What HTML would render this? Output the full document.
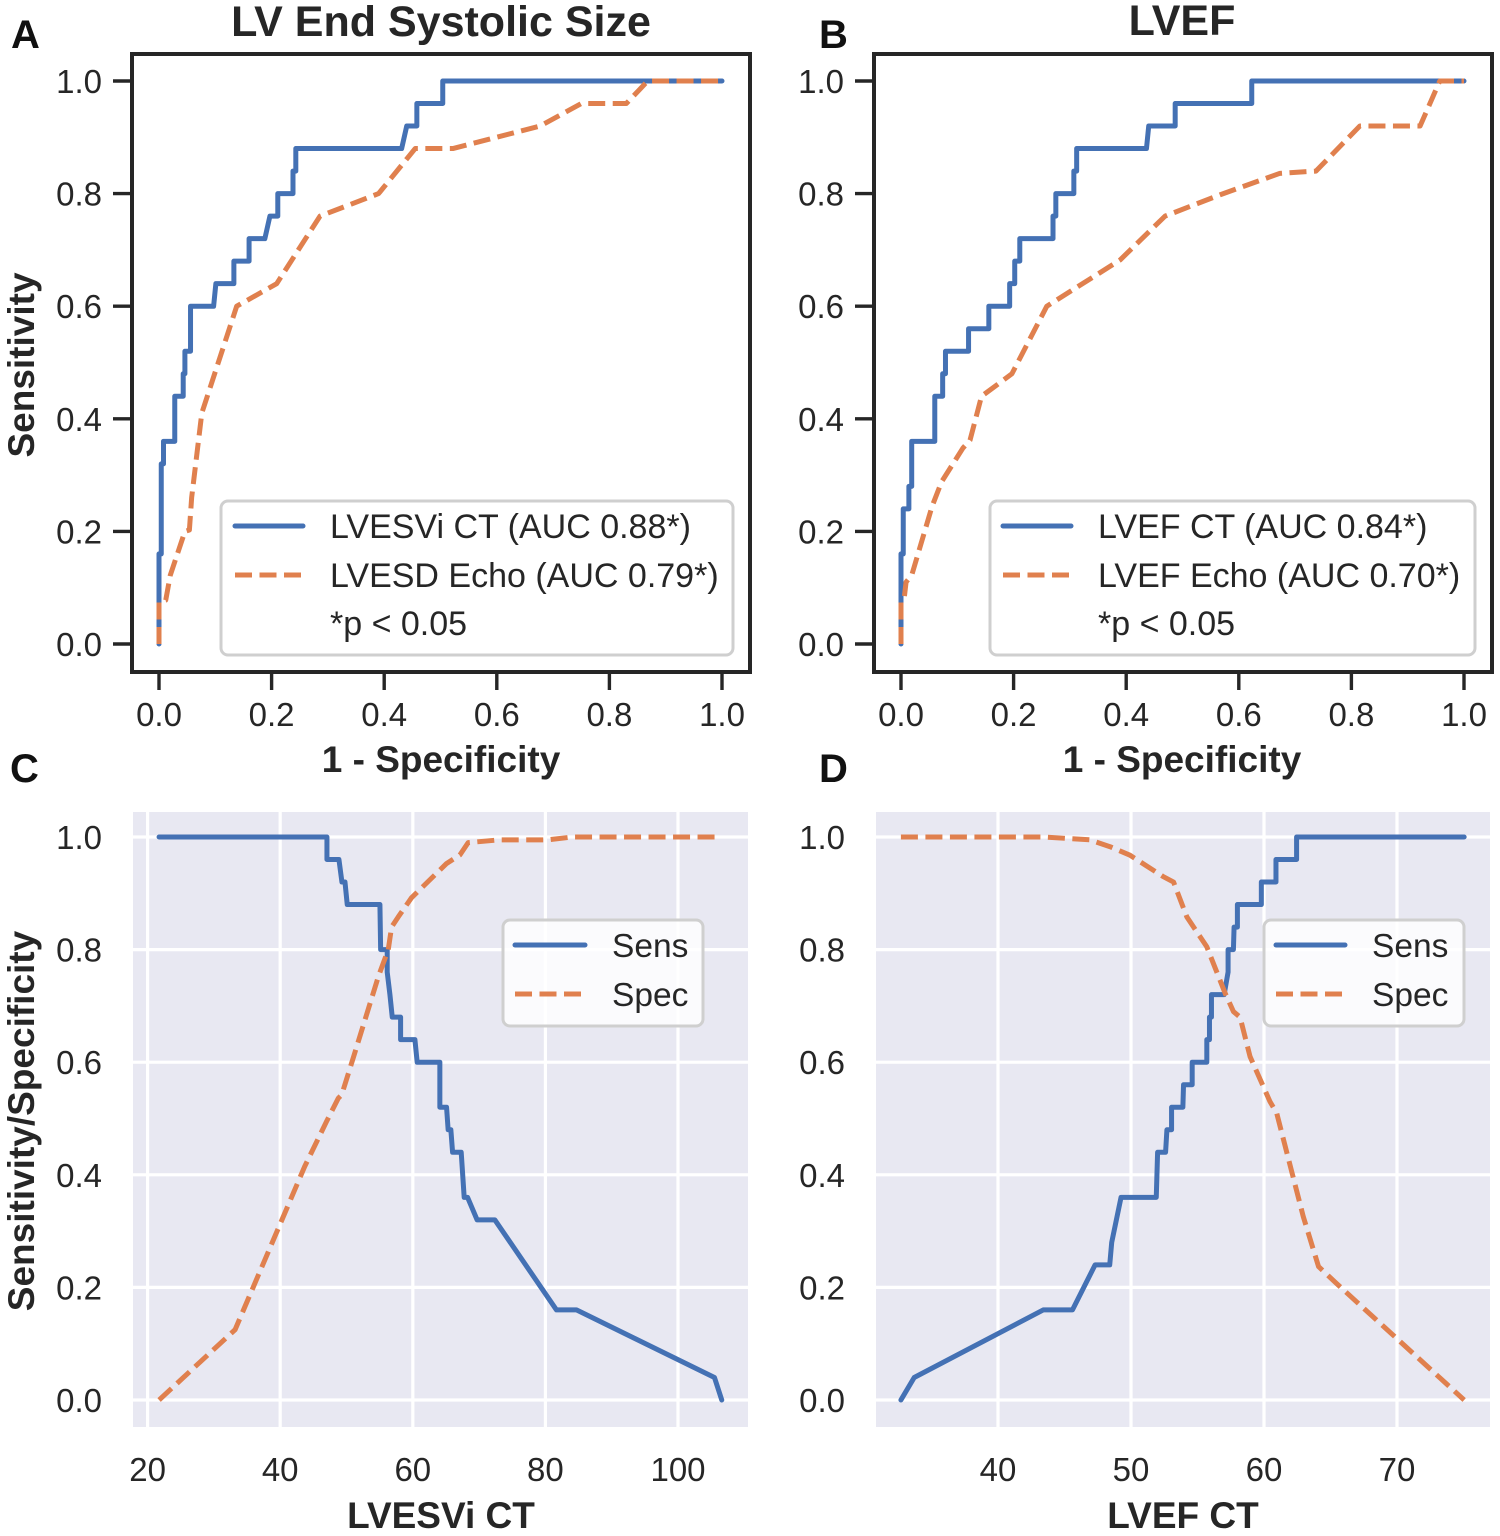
<!DOCTYPE html>
<html lang="en">
<head>
<meta charset="utf-8">
<title>ROC and sensitivity/specificity curves</title>
<style>
html,body{margin:0;padding:0;background:#fff;}
svg{display:block;}
text{font-family:"Liberation Sans",Arial,sans-serif;fill:#262626;}
.tick{font-size:33px;}
.leg{font-size:34px;}
.leg2{font-size:33.5px;}
.title{font-size:43px;font-weight:bold;text-anchor:middle;}
.axt{font-size:37px;font-weight:bold;text-anchor:middle;}
.plabel{font-size:40px;font-weight:bold;fill:#111;}
</style>
</head>
<body>
<svg id="fig" xmlns="http://www.w3.org/2000/svg" width="1500" height="1536" viewBox="0 0 1500 1536"></svg>
<script>
// Shared ticks
const rocTicks = [0, 0.2, 0.4, 0.6, 0.8, 1.0];
const cTicks = [20, 40, 60, 80, 100];
const dTicks = [40, 50, 60, 70];
const yTicks = [0, 0.2, 0.4, 0.6, 0.8, 1.0];

// Panel A: ROC
const aCtFpr = [0,0,0.004,0.004,0.008,0.008,0.028,0.028,0.043,0.043,0.046,0.046,0.056,0.056,0.097,0.101,0.133,0.133,0.16,0.16,0.188,0.197,0.211,0.211,0.238,0.238,0.243,0.243,0.431,0.44,0.458,0.458,0.504,0.504,1];
const aCtSens = [0,0.16,0.16,0.32,0.32,0.36,0.36,0.44,0.44,0.48,0.48,0.52,0.52,0.60,0.60,0.64,0.64,0.68,0.68,0.72,0.72,0.76,0.76,0.80,0.80,0.84,0.84,0.88,0.88,0.92,0.92,0.96,0.96,1,1];
const aEchoFpr = [0,0,0.012,0.02,0.046,0.054,0.058,0.076,0.138,0.209,0.286,0.39,0.455,0.522,0.677,0.75,0.83,0.868,1];
const aEchoSens = [0,0.075,0.078,0.122,0.2,0.2025,0.26,0.41,0.60,0.64,0.76,0.80,0.88,0.88,0.92,0.96,0.96,1,1];

// Panel B: ROC
const bCtFpr = [0,0,0.004,0.004,0.014,0.014,0.019,0.019,0.06,0.06,0.074,0.074,0.079,0.079,0.12,0.12,0.156,0.156,0.193,0.193,0.202,0.202,0.211,0.211,0.27,0.27,0.275,0.275,0.307,0.307,0.312,0.312,0.436,0.44,0.487,0.487,0.623,0.623,1];
const bCtSens = [0,0.16,0.16,0.24,0.24,0.28,0.28,0.36,0.36,0.44,0.44,0.48,0.48,0.52,0.52,0.56,0.56,0.60,0.60,0.64,0.64,0.68,0.68,0.72,0.72,0.76,0.76,0.80,0.80,0.84,0.84,0.88,0.88,0.92,0.92,0.96,0.96,1,1];
const bEchoFpr = [0,0,0.006,0.009,0.019,0.055,0.072,0.11,0.1226,0.143,0.197,0.259,0.389,0.469,0.567,0.673,0.737,0.815,0.922,0.957,1];
const bEchoSens = [0,0.075,0.084,0.11,0.122,0.244,0.288,0.348,0.362,0.44,0.48,0.60,0.682,0.76,0.798,0.836,0.84,0.92,0.92,1,1];

// Panel C: sensitivity / specificity vs LVESVi CT
const cSensX = [21.73,47.05,47.05,48.86,49.31,49.77,50.11,55.04,55.15,56.14,56.14,56.55,56.9,58.16,58.16,60.32,60.66,64.08,64.08,65.09,65.33,65.74,66.0,67.3,67.75,68.26,69.7,72.37,81.67,84.69,105.5,106.6];
const cSensY = [1,1,0.96,0.96,0.92,0.92,0.88,0.88,0.80,0.80,0.76,0.72,0.68,0.68,0.64,0.64,0.60,0.60,0.52,0.52,0.48,0.48,0.44,0.44,0.36,0.36,0.32,0.32,0.16,0.16,0.04,0];
const cSpecX = [21.73,33.2,43.7,47.0,48.76,49.27,51.0,54.8,56.3,56.8,57.8,59.8,65.1,67.1,68.35,73.1,80.4,84.1,106.6];
const cSpecY = [0,0.125,0.415,0.495,0.536,0.542,0.607,0.752,0.80,0.84,0.858,0.892,0.953,0.968,0.99,0.995,0.995,1,1];

// Panel D: sensitivity / specificity vs LVEF CT
const dSensX = [32.7,33.7,43.4,45.6,47.3,48.4,48.55,49.25,51.9,52.0,52.6,52.7,53.05,53.05,53.9,53.95,54.6,54.6,55.7,55.7,55.9,55.9,56.05,56.05,57.0,57.3,57.3,57.7,57.75,58.0,58.0,59.8,59.8,60.9,60.9,62.45,62.45,75.05];
const dSensY = [0,0.04,0.16,0.16,0.24,0.24,0.28,0.36,0.36,0.44,0.44,0.48,0.48,0.52,0.52,0.56,0.56,0.60,0.60,0.64,0.64,0.68,0.68,0.72,0.72,0.76,0.80,0.80,0.84,0.84,0.88,0.88,0.92,0.92,0.96,0.96,1,1];
const dSpecX = [32.7,43.4,46.9,48.4,49.9,52.4,53.2,54.2,55.7,57.07,57.7,58.2,58.95,60.45,60.95,62.95,64.1,65.45,75.05];
const dSpecY = [1,1,0.995,0.983,0.968,0.93,0.92,0.858,0.805,0.723,0.69,0.68,0.61,0.53,0.51,0.326,0.237,0.207,0];

const BLUE = '#4471b4';
const ORANGE = '#e0804e';
const DASH = '17 7.5';
const NS = 'http://www.w3.org/2000/svg';
const fig = document.getElementById('fig');

function mk(parent, tag, attrs, txt) {
  const el = document.createElementNS(NS, tag);
  for (const k in attrs) el.setAttribute(k, attrs[k]);
  if (txt !== undefined) el.textContent = txt;
  parent.appendChild(el);
  return el;
}
function linear(d0, d1, r0, r1) {
  return v => r0 + (v - d0) * (r1 - r0) / (d1 - d0);
}
function fmt(v) { return v.toFixed(1); }

function drawSeries(g, xs, ys, X, Y, color, dashed, name) {
  const pts = xs.map((v, i) => X(v).toFixed(2) + ',' + Y(ys[i]).toFixed(2)).join(' ');
  const attrs = {points: pts, fill: 'none', stroke: color, 'stroke-width': 5, 'stroke-linejoin': 'round', 'stroke-linecap': dashed ? 'butt' : 'round'};
  if (dashed) attrs['stroke-dasharray'] = DASH;
  const el = mk(g, 'polyline', attrs);
  
  
}

function drawLegend(g, box, textX, hx0, hx1, rows, fill, cls) {
  const r = mk(g, 'rect', {x: box[0], y: box[1], width: box[2] - box[0], height: box[3] - box[1], rx: 7, fill: fill, stroke: '#cfcfcf', 'stroke-width': 3});
  
  
  rows.forEach(row => {
    if (row.color) {
      const attrs = {x1: hx0, x2: hx1, y1: row.y, y2: row.y, stroke: row.color, 'stroke-width': 5, 'stroke-linecap': row.dashed ? 'butt' : 'round'};
      if (row.dashed) attrs['stroke-dasharray'] = DASH;
      const h = mk(g, 'line', attrs);
      
      
    }
    const t = mk(g, 'text', {x: textX, y: row.y + 12, class: cls}, row.label);
    
    
  });
}

function drawROC(o) {
  const g = mk(fig, 'g', {});
  
  
  const X = linear(0, 1, o.x0, o.x1);
  const Y = linear(0, 1, 644, 81);
  const xTicks = rocTicks;
  xTicks.forEach(v => {
    const t = mk(g, 'line', {x1: X(v), x2: X(v), y1: 672, y2: 690, stroke: '#262626', 'stroke-width': 3.4});
    
    
    const l = mk(g, 'text', {x: X(v), y: 726, class: 'tick', 'text-anchor': 'middle'}, fmt(v));
    
    
  });
  yTicks.forEach(v => {
    const t = mk(g, 'line', {x1: o.left - 19, x2: o.left, y1: Y(v), y2: Y(v), stroke: '#262626', 'stroke-width': 3.4});
    
    
    const l = mk(g, 'text', {x: o.left - 30, y: Y(v) + 12, class: 'tick', 'text-anchor': 'end'}, fmt(v));
    
    
  });
  drawSeries(g, o.ctX, o.ctY, X, Y, BLUE, false, 'ct-roc-curve');
  drawSeries(g, o.echoX, o.echoY, X, Y, ORANGE, true, 'echo-roc-curve');
  drawLegend(g, o.box, o.textX, o.hx0, o.hx1, o.rows, '#fff', 'leg');
  const f = mk(g, 'rect', {x: o.left, y: 54, width: o.right - o.left, height: 618, fill: 'none', stroke: '#262626', 'stroke-width': 4});
  
  
  const title = mk(g, 'text', {x: o.titleX, y: o.titleY, class: 'title'}, o.title);
  
  
  const xt = mk(g, 'text', {x: o.xTitleX, y: 772, class: 'axt'}, '1 - Specificity');
  
  
}

function drawCurves(o) {
  const g = mk(fig, 'g', {});
  
  
  const X = linear(o.d0, o.d1, o.r0, o.r1);
  const Y = linear(0, 1, 1400, 837);
  const bg = mk(g, 'rect', {x: o.left, y: 812, width: o.right - o.left, height: 615, fill: '#e8e8f2'});
  
  
  o.ticks.forEach(v => {
    const gl = mk(g, 'line', {x1: X(v), x2: X(v), y1: 812, y2: 1427, stroke: '#fff', 'stroke-width': 3.2});
    
    
    const l = mk(g, 'text', {x: X(v), y: 1481, class: 'tick', 'text-anchor': 'middle'}, String(v));
    
    
  });
  yTicks.forEach(v => {
    const gl = mk(g, 'line', {x1: o.left, x2: o.right, y1: Y(v), y2: Y(v), stroke: '#fff', 'stroke-width': 3.2});
    
    
    const l = mk(g, 'text', {x: o.left - 31, y: Y(v) + 12, class: 'tick', 'text-anchor': 'end'}, fmt(v));
    
    
  });
  drawSeries(g, o.sensX, o.sensY, X, Y, BLUE, false, 'sens-curve');
  drawSeries(g, o.specX, o.specY, X, Y, ORANGE, true, 'spec-curve');
  drawLegend(g, o.box, o.textX, o.hx0, o.hx1, [
    {label: 'Sens', y: 945, color: BLUE, dashed: false},
    {label: 'Spec', y: 994, color: ORANGE, dashed: true}
  ], 'rgba(255,255,255,0.8)', 'leg2');
  const xt = mk(g, 'text', {x: o.xTitleX, y: 1528, class: 'axt'}, o.xTitle);
  
  
}

drawROC({
  name: 'panel-a', left: 132, right: 750, x0: 159, x1: 722,
  ctX: aCtFpr, ctY: aCtSens, echoX: aEchoFpr, echoY: aEchoSens,
  box: [221, 501, 733, 655], textX: 330, hx0: 235, hx1: 303,
  rows: [
    {label: 'LVESVi CT (AUC 0.88*)', y: 526, color: BLUE, dashed: false},
    {label: 'LVESD Echo (AUC 0.79*)', y: 575, color: ORANGE, dashed: true},
    {label: '*p < 0.05', y: 623}
  ],
  title: 'LV End Systolic Size', titleX: 441, titleY: 36, xTitleX: 441
});
drawROC({
  name: 'panel-b', left: 874, right: 1492, x0: 901, x1: 1464,
  ctX: bCtFpr, ctY: bCtSens, echoX: bEchoFpr, echoY: bEchoSens,
  box: [990, 501, 1475, 655], textX: 1098, hx0: 1003, hx1: 1071,
  rows: [
    {label: 'LVEF CT (AUC 0.84*)', y: 526, color: BLUE, dashed: false},
    {label: 'LVEF Echo (AUC 0.70*)', y: 575, color: ORANGE, dashed: true},
    {label: '*p < 0.05', y: 623}
  ],
  title: 'LVEF', titleX: 1182, titleY: 35, xTitleX: 1182
});
drawCurves({
  name: 'panel-c', left: 133, right: 748, d0: 40, d1: 100, r0: 280.2, r1: 678,
  ticks: cTicks, sensX: cSensX, sensY: cSensY, specX: cSpecX, specY: cSpecY,
  box: [503, 920, 703, 1026], textX: 612, hx0: 515, hx1: 585, xTitle: 'LVESVi CT', xTitleX: 441
});
drawCurves({
  name: 'panel-d', left: 876, right: 1490, d0: 40, d1: 70, r0: 998, r1: 1397,
  ticks: dTicks, sensX: dSensX, sensY: dSensY, specX: dSpecX, specY: dSpecY,
  box: [1264, 920, 1464, 1026], textX: 1372, hx0: 1276, hx1: 1345, xTitle: 'LVEF CT', xTitleX: 1183
});

const yTitle1 = mk(fig, 'text', {x: 0, y: 0, class: 'axt', transform: 'translate(34,365) rotate(-90)'}, 'Sensitivity');


const yTitle2 = mk(fig, 'text', {x: 0, y: 0, class: 'axt', transform: 'translate(34,1121) rotate(-90)'}, 'Sensitivity/Specificity');



const panelA = mk(fig, 'text', {x: 11, y: 48, class: 'plabel'}, 'A');


const panelB = mk(fig, 'text', {x: 819, y: 48, class: 'plabel'}, 'B');


const panelC = mk(fig, 'text', {x: 10, y: 782, class: 'plabel'}, 'C');


const panelD = mk(fig, 'text', {x: 819, y: 782, class: 'plabel'}, 'D');


</script>
</body>
</html>
